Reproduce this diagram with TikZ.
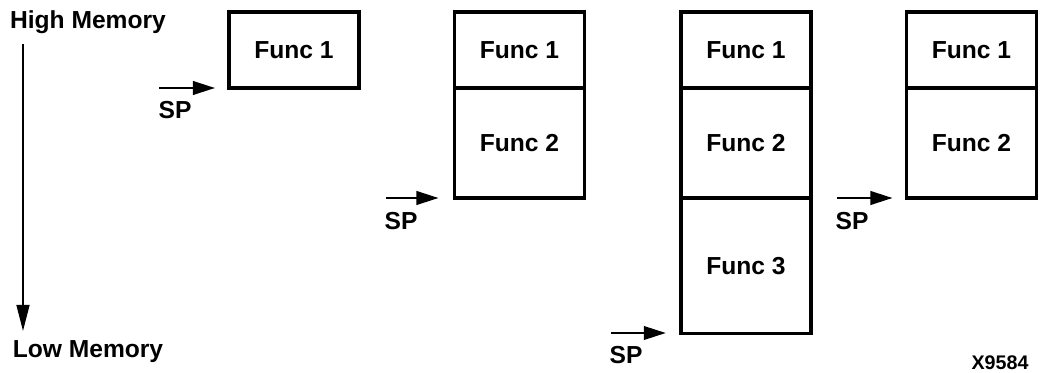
\documentclass[tikz,border=0pt]{standalone}
\usepackage{fontspec}
\setmainfont{Liberation Sans}
\usetikzlibrary{arrows.meta}

\tikzset{
  frame/.style={draw, line width=2.2pt, minimum width=3.25cm, inner sep=0pt, outer sep=0pt},
  ptr/.style={line width=1.5pt, -{Triangle[length=0.55cm,width=0.34cm]}},
  lbl/.style={font=\bfseries\fontsize{17.5}{20}\selectfont}
}

\begin{document}
\begin{tikzpicture}[x=0.025cm,y=-0.025cm,every node/.style={lbl}]
\useasboundingbox (0,0) rectangle (1040,373);
% memory direction
  \node (high) at (88,22) {High Memory};
  \node (low) at (88,352) {Low Memory};
  \draw[line width=1.5pt, -{Triangle[length=0.65cm,width=0.32cm]}] (23,44) -- (23,331);
% first call
  \node[frame, minimum height=1.9cm] (a1) at (294,50) {Func 1};
  \coordinate (spa) at (159,88);
  \draw[ptr, shorten >=0.35cm] (spa) -- (spa -| a1.west);
  \node (spla) at (175,110) {SP};
% second call
  \node[frame, minimum height=1.9cm] (b1) at (519.5,50) {Func 1};
  \node[frame, minimum height=2.75cm, anchor=north] (b2) at (b1.south) {Func 2};
  \coordinate (spb) at (386,198);
  \draw[ptr, shorten >=0.4cm] (spb) -- (spb -| b2.west);
  \node (splb) at (401,221) {SP};
% third call
  \node[frame, minimum height=1.9cm] (c1) at (746,50) {Func 1};
  \node[frame, minimum height=2.75cm, anchor=north] (c2) at (c1.south) {Func 2};
  \node[frame, minimum height=3.375cm, anchor=north] (c3) at (c2.south) {Func 3};
  \coordinate (spc) at (611,333);
  \draw[ptr, shorten >=0.38cm] (spc) -- (spc -| c3.west);
  \node (splc) at (626,355) {SP};
% back from third
  \node[frame, minimum height=1.9cm] (d1) at (971.5,50) {Func 1};
  \node[frame, minimum height=2.75cm, anchor=north] (d2) at (d1.south) {Func 2};
  \coordinate (spd) at (837,198);
  \draw[ptr, shorten >=0.35cm] (spd) -- (spd -| d2.west);
  \node (spld) at (852,221) {SP};
  \node[font=\bfseries\fontsize{14}{16}\selectfont] (fig) at (1000,363) {X9584};
\end{tikzpicture}
\end{document}
